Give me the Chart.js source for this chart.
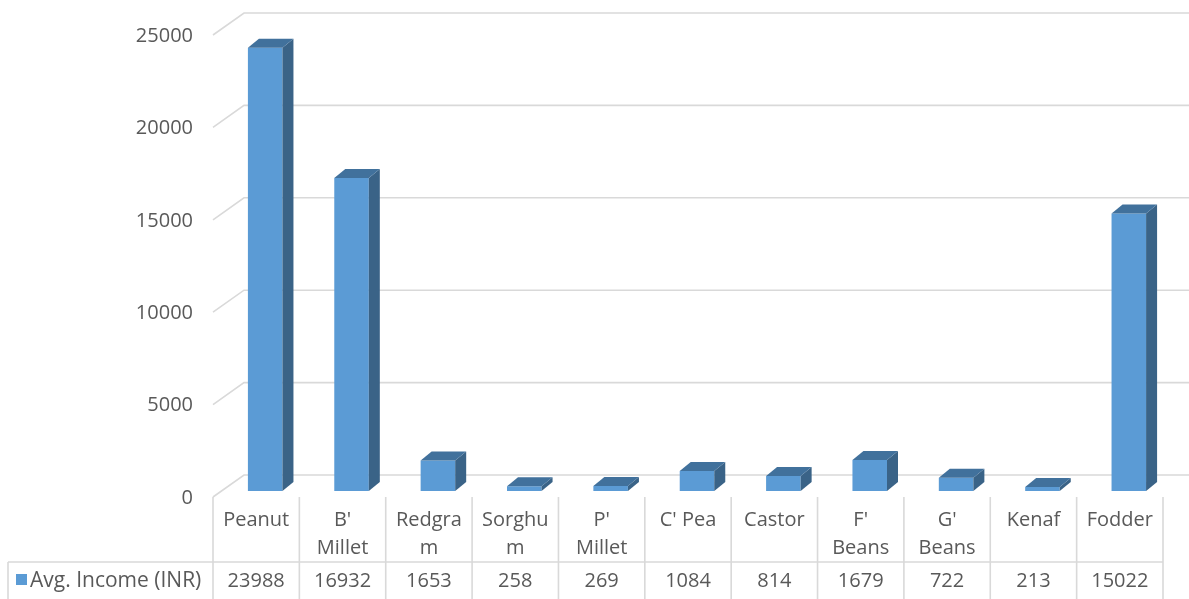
<!DOCTYPE html>
<html>
<head>
<meta charset="utf-8">
<script src="https://cdn.jsdelivr.net/npm/chart.js@4/dist/chart.umd.min.js"></script>
<style>
  html, body { margin: 0; padding: 0; background: #ffffff; }
  #wrap { width: 1189px; height: 599px; position: relative; }
</style>
</head>
<body>
<div id="wrap"><canvas id="c" width="1189" height="599"></canvas></div>
<script>
// Crop names and average income per crop (INR)
const categories = ['Peanut', "B' Millet", 'Redgram', 'Sorghum', "P' Millet", "C' Pea", 'Castor', "F' Beans", "G' Beans", 'Kenaf', 'Fodder'];
const categoryLines = [['Peanut'], ["B'", 'Millet'], ['Redgra', 'm'], ['Sorghu', 'm'], ["P'", 'Millet'], ["C' Pea"], ['Castor'], ["F'", 'Beans'], ["G'", 'Beans'], ['Kenaf'], ['Fodder']];
const avgIncome = [23988, 16932, 1653, 258, 269, 1084, 814, 1679, 722, 213, 15022];
const seriesName = 'Avg. Income (INR)';
const yTicks = [0, 5000, 10000, 15000, 20000, 25000];

const FONT = '"Open Sans", "Liberation Sans", sans-serif';
const TEXT = '#595959';
const GRID = '#d9d9d9';
const FRONT = '#5b9bd5';
const TOP = '#41719c';
const SIDE = '#3a6387';

// oblique depth of the plot box, relative to the plane the bars stand on
const BACK_DX = 22, BACK_DY = -16;   // back wall
const FRONT_DX = -9, FRONT_DY = 6;   // front edge / table
const BAR_DX = 11, BAR_DY = -9;      // bar depth

const box3d = {
  id: 'box3d',
  beforeDatasetsDraw(chart) {
    const ctx = chart.ctx;
    const y = chart.scales.y, x = chart.scales.x;
    const left = x.left + FRONT_DX;
    ctx.save();
    ctx.strokeStyle = GRID;
    ctx.lineWidth = 1.6;
    ctx.font = '20px ' + FONT;
    ctx.fillStyle = TEXT;
    ctx.textAlign = 'right';
    ctx.textBaseline = 'middle';
    yTicks.forEach(v => {
      const py = y.getPixelForValue(v);
      const fy = py + FRONT_DY, by = py + BACK_DY;
      ctx.beginPath();
      ctx.moveTo(left, fy);
      ctx.lineTo(left + (BACK_DX - FRONT_DX), by);
      ctx.lineTo(chart.width, by);
      ctx.stroke();
      ctx.fillText(String(v), left - 20, fy + 1);
    });
    ctx.restore();
  },
  afterDatasetsDraw(chart) {
    const ctx = chart.ctx;
    const meta = chart.getDatasetMeta(0);
    ctx.save();
    meta.data.forEach(bar => {
      const p = bar.getProps(['x', 'y', 'base', 'width'], true);
      const l = p.x - p.width / 2, r = p.x + p.width / 2;
      const t = Math.min(p.y, p.base), b = p.base;
      // right side face
      ctx.fillStyle = SIDE;
      ctx.beginPath();
      ctx.moveTo(r, t);
      ctx.lineTo(r + BAR_DX, t + BAR_DY);
      ctx.lineTo(r + BAR_DX, b + BAR_DY);
      ctx.lineTo(r, b);
      ctx.closePath();
      ctx.fill();
      // top face
      ctx.fillStyle = TOP;
      ctx.beginPath();
      ctx.moveTo(l, t);
      ctx.lineTo(l + BAR_DX, t + BAR_DY);
      ctx.lineTo(r + BAR_DX, t + BAR_DY);
      ctx.lineTo(r, t);
      ctx.closePath();
      ctx.fill();
    });
    ctx.restore();
  },
  afterDraw(chart) {
    // data table under the plot
    const ctx = chart.ctx;
    const x = chart.scales.x, y = chart.scales.y;
    const n = categories.length;
    const colW = (x.right - x.left) / n;
    const left = x.left + FRONT_DX;
    const top = y.getPixelForValue(0) + FRONT_DY;
    const rowSplit = top + 65;
    const labelLeft = 8;
    ctx.save();
    ctx.strokeStyle = GRID;
    ctx.lineWidth = 1.6;
    ctx.beginPath();
    for (let i = 0; i <= n; i++) {
      const cx = left + i * colW;
      ctx.moveTo(cx, top);
      ctx.lineTo(cx, chart.height);
    }
    ctx.moveTo(labelLeft, rowSplit);
    ctx.lineTo(left + n * colW, rowSplit);
    ctx.moveTo(labelLeft, rowSplit);
    ctx.lineTo(labelLeft, chart.height);
    ctx.stroke();

    ctx.font = '20px ' + FONT;
    ctx.fillStyle = TEXT;
    ctx.textAlign = 'center';
    ctx.textBaseline = 'middle';
    categoryLines.forEach((lines, i) => {
      const cx = left + (i + 0.5) * colW;
      lines.forEach((s, k) => ctx.fillText(s, cx, top + 23 + k * 28));
      ctx.fillText(String(avgIncome[i]), cx, rowSplit + 19);
    });
    // series key
    ctx.fillStyle = FRONT;
    ctx.fillRect(16, rowSplit + 12, 11, 11);
    ctx.fillStyle = TEXT;
    ctx.textAlign = 'left';
    ctx.font = '21px ' + FONT;
    ctx.fillText(seriesName, 30, rowSplit + 19);
    ctx.restore();
  }
};

new Chart(document.getElementById('c'), {
  type: 'bar',
  data: {
    labels: categories,
    datasets: [{
      label: seriesName,
      data: avgIncome,
      backgroundColor: FRONT,
      borderWidth: 0,
      categoryPercentage: 1,
      barPercentage: 0.4
    }]
  },
  options: {
    responsive: false,
    animation: false,
    events: [],
    layout: { padding: { left: 222, right: 17, top: 29, bottom: 108 } },
    plugins: { legend: { display: false }, tooltip: { enabled: false } },
    scales: {
      x: { display: false, offset: true },
      y: { display: false, min: 0, max: 25000 }
    }
  },
  plugins: [box3d]
});
</script>
</body>
</html>
